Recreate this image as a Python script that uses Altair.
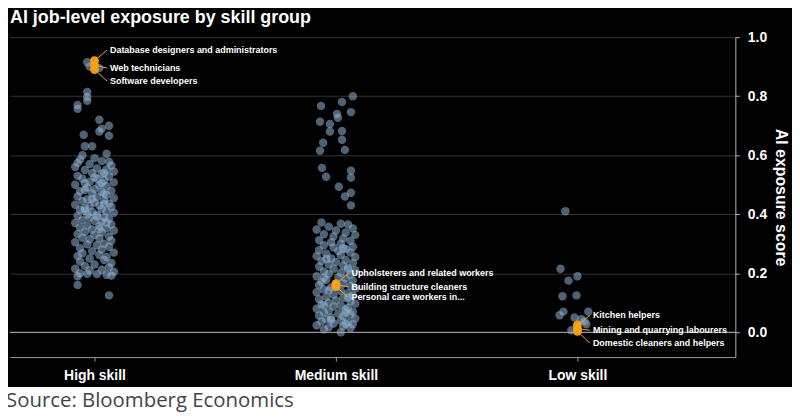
import altair as alt
import pandas as pd

groups = ["High skill", "Medium skill", "Low skill"]

# (AI exposure score, horizontal jitter in category units)
high_points = [
    (0.915, -0.03), (0.900, -0.02), (0.895, 0.02),
    (0.814, -0.03), (0.797, -0.03), (0.784, -0.03), (0.770, -0.07), (0.757, -0.07),
    (0.720, 0.02), (0.700, 0.06), (0.690, 0.03), (0.680, 0.02), (0.666, 0.06), (0.669, -0.045),
    (0.630, -0.04), (0.630, -0.01), (0.605, 0.05), (0.600, -0.05), (0.574, -0.07),
    (0.590, 0.00), (0.585, -0.06), (0.580, 0.03), (0.578, 0.06),
    (0.570, -0.02), (0.565, 0.07), (0.560, -0.08), (0.555, 0.01), (0.552, 0.05), (0.550, -0.04),
    (0.545, 0.08), (0.540, -0.01), (0.537, 0.03), (0.530, -0.07), (0.528, 0.06), (0.525, 0.00),
    (0.520, -0.05), (0.515, 0.04), (0.510, -0.02), (0.508, 0.08), (0.500, -0.08), (0.498, 0.02), (0.495, 0.05),
    (0.490, -0.03), (0.485, 0.00), (0.480, 0.07), (0.478, -0.06), (0.475, 0.03), (0.470, -0.01),
    (0.465, 0.05), (0.460, -0.07), (0.458, 0.01), (0.455, 0.08), (0.450, -0.03), (0.447, 0.04), (0.445, -0.05),
    (0.440, 0.00), (0.436, 0.06), (0.432, -0.08), (0.430, 0.02), (0.428, -0.02), (0.425, 0.07), (0.420, -0.04),
    (0.418, 0.03), (0.415, -0.06), (0.410, 0.05), (0.408, -0.01), (0.405, 0.08), (0.400, -0.03), (0.398, 0.01),
    (0.395, -0.07), (0.390, 0.04), (0.388, -0.02), (0.385, 0.06), (0.380, -0.05), (0.378, 0.00), (0.375, 0.03),
    (0.370, -0.08), (0.365, 0.07), (0.362, -0.03), (0.360, 0.02), (0.355, -0.06), (0.352, 0.05),
    (0.348, -0.01), (0.345, 0.08), (0.340, -0.04), (0.338, 0.03), (0.333, -0.07), (0.330, 0.00),
    (0.325, 0.06), (0.320, -0.05), (0.318, 0.02), (0.315, -0.02), (0.310, 0.07), (0.305, -0.08),
    (0.300, 0.04), (0.298, -0.03), (0.295, 0.01), (0.290, 0.06), (0.285, -0.06), (0.280, 0.03),
    (0.275, -0.01), (0.270, 0.08), (0.268, -0.05), (0.262, 0.02), (0.258, -0.07), (0.255, 0.05),
    (0.250, -0.02), (0.245, 0.04), (0.240, -0.06), (0.235, 0.07), (0.230, 0.00), (0.225, -0.04),
    (0.220, 0.06), (0.215, -0.08), (0.212, 0.03), (0.210, -0.02), (0.205, 0.08),
    (0.200, -0.06), (0.198, -0.03), (0.197, 0.01), (0.195, 0.05), (0.192, 0.07), (0.190, -0.07),
    (0.160, -0.07), (0.125, 0.06),
    (0.540, 0.04), (0.520, 0.01), (0.505, -0.04), (0.470, 0.04), (0.452, -0.01), (0.435, 0.04),
    (0.412, -0.04), (0.392, 0.01), (0.372, 0.05), (0.350, 0.02), (0.505, 0.03), (0.482, -0.04),
]

medium_points = [
    (0.800, 0.07), (0.767, -0.062), (0.780, 0.025), (0.740, 0.004), (0.727, 0.008), (0.746, 0.062),
    (0.713, -0.066), (0.706, -0.025), (0.680, -0.025), (0.682, 0.025), (0.652, 0.025), (0.642, -0.053),
    (0.615, -0.066), (0.618, 0.037), (0.557, -0.058), (0.547, 0.062), (0.527, -0.041), (0.524, 0.062),
    (0.493, 0.012), (0.473, 0.062), (0.460, 0.037), (0.430, 0.062),
    (0.372, -0.06), (0.368, 0.02), (0.365, 0.05),
    (0.358, -0.03), (0.352, 0.07), (0.348, -0.08), (0.345, 0.00),
    (0.338, 0.04), (0.332, -0.05), (0.330, 0.08), (0.325, -0.01),
    (0.318, 0.03), (0.312, -0.07), (0.310, 0.06), (0.305, -0.02), (0.300, 0.02),
    (0.295, -0.05), (0.290, 0.07), (0.287, -0.01), (0.282, 0.04), (0.278, -0.07), (0.275, 0.01),
    (0.270, 0.06), (0.266, -0.04), (0.262, 0.02), (0.258, -0.08), (0.255, 0.08), (0.250, -0.02),
    (0.245, 0.04), (0.242, -0.06), (0.238, 0.00), (0.235, 0.07), (0.230, -0.03), (0.226, 0.03),
    (0.222, -0.07), (0.218, 0.05), (0.215, -0.01), (0.210, 0.08), (0.206, -0.05), (0.202, 0.02),
    (0.198, -0.03), (0.195, 0.06), (0.190, -0.08), (0.186, 0.01), (0.182, 0.04), (0.178, -0.04),
    (0.175, 0.07), (0.170, -0.06), (0.165, 0.03), (0.160, -0.07), (0.158, 0.06), (0.152, -0.02),
    (0.148, 0.08), (0.145, -0.05), (0.140, 0.02), (0.136, -0.08), (0.132, 0.05), (0.128, -0.01),
    (0.124, 0.07), (0.120, -0.04), (0.116, 0.03), (0.112, -0.07), (0.108, 0.00), (0.105, 0.06),
    (0.100, -0.03), (0.097, 0.08), (0.094, -0.06), (0.090, 0.02), (0.087, -0.01), (0.083, 0.05),
    (0.080, -0.08), (0.077, 0.04), (0.073, -0.03), (0.070, 0.07), (0.067, -0.05), (0.064, 0.01),
    (0.060, 0.06), (0.057, -0.07), (0.054, 0.03), (0.050, -0.02), (0.047, 0.08), (0.044, -0.04),
    (0.040, 0.02), (0.037, -0.06), (0.034, 0.05), (0.030, -0.01), (0.027, 0.07), (0.024, -0.08),
    (0.020, 0.03), (0.017, -0.03), (0.014, 0.06), (0.010, -0.05), (0.000, 0.02),
    (0.285, 0.03), (0.248, -0.04), (0.212, 0.05), (0.185, -0.05), (0.142, -0.03), (0.118, 0.05),
    (0.092, -0.05), (0.066, 0.04), (0.042, -0.02), (0.028, 0.04),
]

low_points = [
    (0.410, -0.050), (0.215, -0.070), (0.190, 0.000), (0.175, -0.037), (0.122, -0.062),
    (0.125, -0.004), (0.070, -0.058), (0.058, -0.074), (0.070, 0.045), (0.050, -0.012),
    (0.044, 0.016), (0.027, 0.037), (0.007, -0.025), (0.037, 0.029),
]

# highlighted jobs: group index, name, score, label position (score units)
hl_group = [0, 0, 0, 1, 1, 1, 2, 2, 2]
hl_names = [
    "Database designers and administrators", "Web technicians", "Software developers",
    "Upholsterers and related workers", "Building structure cleaners", "Personal care workers in...",
    "Kitchen helpers", "Mining and quarrying labourers", "Domestic cleaners and helpers",
]
hl_scores = [0.920, 0.905, 0.890, 0.165, 0.160, 0.155, 0.025, 0.012, 0.003]
hl_label_y = [0.956, 0.895, 0.851, 0.200, 0.155, 0.118, 0.057, 0.007, -0.037]

rows = []
for gi, pts in enumerate([high_points, medium_points, low_points]):
    for s, j in pts:
        rows.append({"group": groups[gi], "xpos": gi + j, "score": s})
pts_df = pd.DataFrame(rows)

hl_df = pd.DataFrame({
    "name": hl_names,
    "xpos": hl_group,
    "score": hl_scores,
    "lx": [g + 0.064 for g in hl_group],
    "lx2": [g + 0.052 for g in hl_group],
    "ly": hl_label_y,
})

xscale = alt.Scale(domain=[-0.35, 2.654], nice=False, zero=False)
yscale = alt.Scale(domain=[-0.084, 1.0], nice=False, zero=False)
label_expr = "[" + ",".join("'" + g + "'" for g in groups) + "][datum.value]"

base_pts = alt.Chart(pts_df).mark_circle(size=72, color="#8fb3d4", opacity=0.55).encode(
    x=alt.X("xpos:Q", scale=xscale, axis=alt.Axis(
        values=[0, 1, 2], labelExpr=label_expr, grid=False, title=None,
        domainColor="#9a9a9a", tickColor="#9a9a9a", tickSize=4,
        labelColor="white", labelFont="Liberation Sans", labelFontWeight="bold",
        labelFontSize=14, labelPadding=8)),
    y=alt.Y("score:Q", scale=yscale, axis=alt.Axis(
        orient="right", values=[0, 0.2, 0.4, 0.6, 0.8, 1.0], format=".1f",
        grid=True, gridColor="#333333", domainColor="#b5b5b5", tickColor="#b5b5b5",
        tickSize=4, labelPadding=8, labelColor="white", labelFont="Liberation Sans",
        labelFontSize=14, labelFontWeight="bold", title="AI exposure score",
        titleColor="white", titleFont="Liberation Sans", titleFontSize=16,
        titleFontWeight="bold", titlePadding=6)),
)

zero_rule = alt.Chart(pd.DataFrame({"score": [0.0]})).mark_rule(color="#b0b0b0", strokeWidth=1).encode(
    y=alt.Y("score:Q", scale=yscale)
)

leaders = alt.Chart(hl_df).mark_rule(color="#f5a21f", strokeWidth=1).encode(
    x=alt.X("xpos:Q", scale=xscale), x2="lx2:Q",
    y=alt.Y("score:Q", scale=yscale), y2="ly:Q",
)

hl_pts = alt.Chart(hl_df).mark_circle(size=80, color="#f7a21b", opacity=0.95).encode(
    x=alt.X("xpos:Q", scale=xscale), y=alt.Y("score:Q", scale=yscale)
)

labels = alt.Chart(hl_df).mark_text(
    align="left", baseline="middle", color="white", font="Liberation Sans",
    fontSize=9, fontWeight="bold"
).encode(
    x=alt.X("lx:Q", scale=xscale), y=alt.Y("ly:Q", scale=yscale), text="name:N"
)

white_band = alt.Chart(alt.Data(values=[{}])).mark_rect(color="white").encode(
    x=alt.value(-10), x2=alt.value(800), y=alt.value(352), y2=alt.value(420)
)

source = alt.Chart(alt.Data(values=[{}])).mark_text(
    text="Source: Bloomberg Economics", align="left", baseline="alphabetic",
    color="#444444", font="Open Sans", fontSize=20.5
).encode(x=alt.value(-4), y=alt.value(372))

chart = alt.layer(
    base_pts, zero_rule, leaders, hl_pts, labels, white_band, source
).properties(
    width=730, height=322,
    autosize=alt.AutoSizeParams(type="none"),
    padding={"left": 2, "top": 28, "right": 57, "bottom": 60},
    background="black",
    title=alt.TitleParams(
        text="AI job-level exposure by skill group", anchor="start", frame="group",
        color="white", font="Liberation Sans", fontSize=18, fontWeight="bold", offset=3
    ),
).configure_view(stroke=None)

chart.save("out.html", embed_options={"renderer": "svg", "actions": False})
